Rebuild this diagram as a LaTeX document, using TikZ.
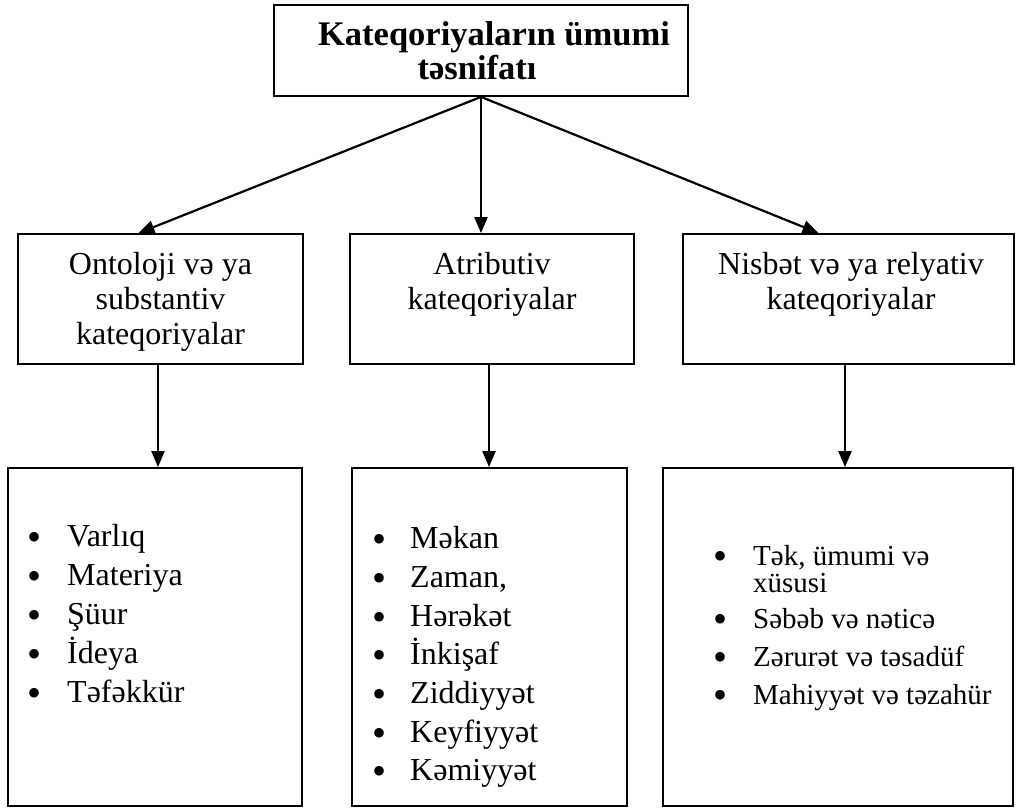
\documentclass[tikz,border=0pt]{standalone}
\usepackage{fontspec}
\setmainfont{Liberation Serif}
\usetikzlibrary{arrows.meta}
\begin{document}
\begin{tikzpicture}[x=1pt,y=-1pt,
  box/.style={draw, line width=1.8pt, inner sep=0pt},
  txt/.style={anchor=base, inner sep=0pt, font=\fontsize{32}{35}\selectfont},
  ttl/.style={anchor=base, inner sep=0pt, font=\fontsize{34.5}{35}\selectfont\bfseries},
  bul/.style={anchor=base, inner sep=0pt, yshift=-4pt, font=\fontsize{40}{40}\selectfont},
  itm/.style={anchor=base west, inner sep=0pt, font=\fontsize{32}{35}\selectfont},
  itms/.style={anchor=base west, inner sep=0pt, font=\fontsize{29}{30}\selectfont},
  arr/.style={-{Triangle[length=16pt,width=13pt]}, line width=2.2pt}]
\useasboundingbox (0,0) rectangle (1023,807);
% boxes
\node[box, minimum width=414pt, minimum height=91pt] (top) at (481,50.5) {};
\node[box, minimum width=285pt, minimum height=130pt] (m1) at (160.5,299) {};
\node[box, minimum width=284pt, minimum height=130pt] (m2) at (492,299) {};
\node[box, minimum width=331pt, minimum height=130pt] (m3) at (848.5,299) {};
\node[box, minimum width=294pt, minimum height=338pt] (b1) at (155,637) {};
\node[box, minimum width=275pt, minimum height=338pt] (b2) at (489.5,637) {};
\node[box, minimum width=350pt, minimum height=338pt] (b3) at (838,637) {};
% title
\node[ttl] (t1) at (494,45) {Kateqoriyaların ümumi};
\node[ttl] (t2) at (477,79) {təsnifatı};
% middle texts
\node[txt] (a1) at (160.5,274) {Ontoloji və ya};
\node[txt] (a2) at (160.5,309) {substantiv};
\node[txt] (a3) at (160.5,344) {kateqoriyalar};
\node[txt] (c1) at (492,274) {Atributiv};
\node[txt] (c2) at (492,309) {kateqoriyalar};
\node[txt] (d1) at (851,274) {Nisbət və ya relyativ};
\node[txt] (d2) at (851,309) {kateqoriyalar};
% arrows
\draw[arr] (top.south) -- ([xshift=-22pt]m1.north);
\draw[arr] (top.south) -- (top.south |- m2.north);
\draw[arr] (top.south) -- ([xshift=-30pt]m3.north);
\draw[arr] ([xshift=-2.5pt]m1.south) -- ([xshift=-2.5pt]m1.south |- b1.north);
\draw[arr] ([xshift=-3pt]m2.south) -- ([xshift=-3pt]m2.south |- b2.north);
\draw[arr] ([xshift=-3.5pt]m3.south) -- ([xshift=-3.5pt]m3.south |- b3.north);
% left list
\node[bul] (lb1) at (35,546) {•}; \node[itm] (l1) at (67,546) {Varlıq};
\node[bul] (lb2) at (35,585) {•}; \node[itm] (l2) at (67,585) {Materiya};
\node[bul] (lb3) at (35,624) {•}; \node[itm] (l3) at (67,624) {Şüur};
\node[bul] (lb4) at (35,663) {•}; \node[itm] (l4) at (67,663) {İdeya};
\node[bul] (lb5) at (35,702) {•}; \node[itm] (l5) at (67,702) {Təfəkkür};
% middle list
\node[bul] (mb1) at (379,548) {•}; \node[itm] (n1) at (410,548) {Məkan};
\node[bul] (mb2) at (379,587) {•}; \node[itm] (n2) at (410,587) {Zaman,};
\node[bul] (mb3) at (379,626) {•}; \node[itm] (n3) at (410,626) {Hərəkət};
\node[bul] (mb4) at (379,664) {•}; \node[itm] (n4) at (410,664) {İnkişaf};
\node[bul] (mb5) at (379,703) {•}; \node[itm] (n5) at (410,703) {Ziddiyyət};
\node[bul] (mb6) at (379,742) {•}; \node[itm] (n6) at (410,742) {Keyfiyyət};
\node[bul] (mb7) at (379,780) {•}; \node[itm] (n7) at (410,780) {Kəmiyyət};
% right list
\node[bul] (rb1) at (720,565) {•}; \node[itms] (r1) at (753,565) {Tək, ümumi və};
\node[itms] (r1b) at (753,592) {xüsusi};
\node[bul] (rb2) at (720,628) {•}; \node[itms] (r2) at (753,628) {Səbəb və nəticə};
\node[bul] (rb3) at (720,666) {•}; \node[itms] (r3) at (753,666) {Zərurət və təsadüf};
\node[bul] (rb4) at (720,704) {•}; \node[itms] (r4) at (753,704) {Mahiyyət və təzahür};
\end{tikzpicture}
\end{document}
